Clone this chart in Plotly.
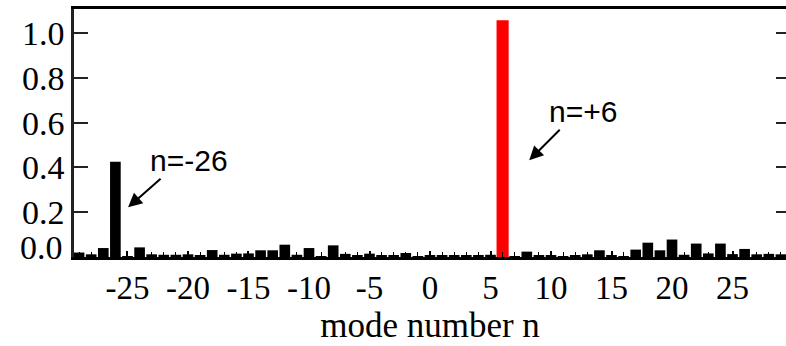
import plotly.graph_objects as go

# mode numbers and normalised amplitudes
modes = list(range(-29, 30))
amplitude = [
    0.020, 0.012, 0.040, 0.425, 0.004, 0.043, 0.012, 0.010, 0.010, 0.012,   # -29..-20
    0.008, 0.031, 0.010, 0.015, 0.016, 0.030, 0.030, 0.055, 0.010, 0.040,   # -19..-10
    0.004, 0.052, 0.014, 0.006, 0.015, 0.008, 0.006, 0.018, 0.004,          # -9..-1
    0.006,                                                                  # 0
    0.006, 0.007, 0.006, 0.007, 0.010, 1.058, 0.004, 0.024, 0.006, 0.008,   # 1..10
    0.003, 0.009, 0.012, 0.030, 0.006, 0.004, 0.033, 0.064, 0.030, 0.078,   # 11..20
    0.010, 0.060, 0.016, 0.060, 0.013, 0.036, 0.012, 0.014, 0.012,          # 21..29
]
highlight_mode = 6

x_tick_vals = [-25, -20, -15, -10, -5, 0, 5, 10, 15, 20, 25]
x_tick_text = ["-25", "-20", "-15", "-10", "-5", "0", "5", "10", "15", "20", "25"]
y_tick_vals = [0.2, 0.4, 0.6, 0.8, 1.0]
y_tick_text = ["0.2", "0.4", "0.6", "0.8", "1.0"]
zero_label = "0.0"

labels = ["n=-26", "n=+6"]
label_pos = [(-19.9, 0.432), (12.65, 0.651)]
arrow_heads = [(-24.95, 0.222), (8.2, 0.432)]
arrow_tails = [(34, -30), (32, -32)]

colors = ["red" if m == highlight_mode else "black" for m in modes]
widths = [1.0 if m == highlight_mode else 0.88 for m in modes]

x_range = [-29.42, 29.42]
y_range = [0, 1.108]

fig = go.Figure()
fig.add_trace(go.Bar(x=modes, y=amplitude, marker=dict(color=colors, line=dict(width=0)),
                     width=widths, hoverinfo="skip"))
fig.add_trace(go.Scatter(x=[modes[0]], y=[0], yaxis="y2", mode="markers",
                         marker=dict(opacity=0), hoverinfo="skip", showlegend=False))

serif = "Liberation Serif"
sans = "Liberation Sans"

for txt, (tx, ty) in zip(labels, label_pos):
    fig.add_annotation(x=tx, y=ty, xref="x", yref="y", text=txt, showarrow=False,
                       font=dict(family=sans, size=30, color="black"))
for (hx, hy), (ax, ay) in zip(arrow_heads, arrow_tails):
    fig.add_annotation(x=hx, y=hy, xref="x", yref="y", text="", showarrow=True,
                       ax=ax, ay=ay, arrowhead=2, arrowsize=1.4, arrowwidth=2,
                       arrowcolor="black", standoff=0)
fig.add_annotation(x=0, y=0, xref="paper", yref="y", text=zero_label, showarrow=False,
                   xanchor="right", yanchor="middle", xshift=-9, yshift=10,
                   font=dict(family=serif, size=34, color="black"))

fig.update_layout(
    width=786, height=346,
    margin=dict(l=74, r=0, t=9, b=89),
    plot_bgcolor="white", paper_bgcolor="white",
    showlegend=False,
    xaxis=dict(range=x_range, tickvals=x_tick_vals, ticktext=x_tick_text,
               ticks="inside", ticklen=6, tickwidth=1.5, tickcolor="black",
               minor=dict(ticks="inside", ticklen=5, dtick=1, tick0=0,
                          tickcolor="black", tickwidth=1, showgrid=False),
               showline=True, linewidth=2.5, linecolor="black", mirror=True,
               showgrid=False, zeroline=False,
               tickfont=dict(family=serif, size=33, color="black"),
               title=dict(text="mode number n", standoff=2,
                          font=dict(family=serif, size=35, color="black"))),
    yaxis=dict(range=y_range, tickvals=y_tick_vals, ticktext=y_tick_text,
               ticks="inside", ticklen=14, tickwidth=2, tickcolor="#222",
               showline=True, linewidth=2.5, linecolor="#222",
               showgrid=False, zeroline=False, ticklabelstandoff=0,
               tickfont=dict(family=serif, size=34, color="black")),
    yaxis2=dict(range=y_range, overlaying="y", side="right", tickvals=y_tick_vals,
                ticks="inside", ticklen=10, tickwidth=2, tickcolor="#222",
                showticklabels=False, showline=False, showgrid=False, zeroline=False),
)

fig.write_html("out.html")
